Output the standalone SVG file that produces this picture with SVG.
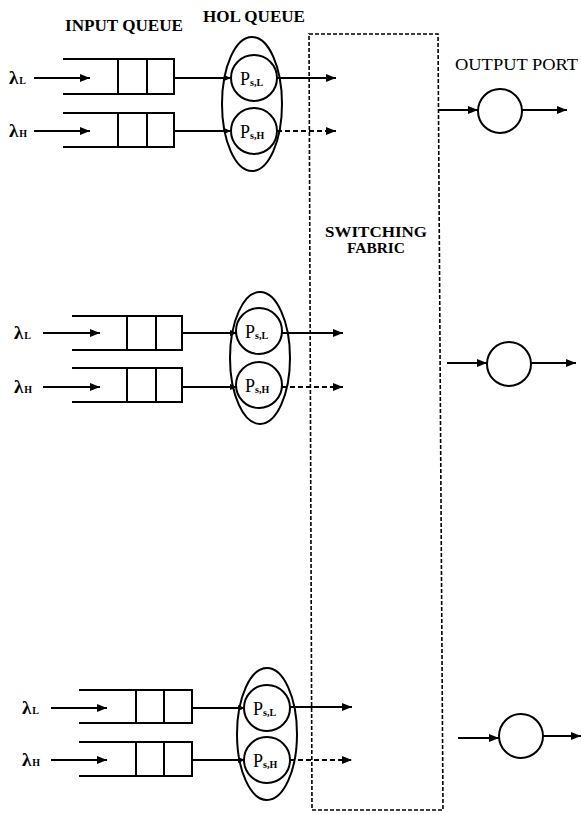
<svg xmlns="http://www.w3.org/2000/svg" width="581" height="814" viewBox="0 0 581 814">
<style>
.ln{stroke:#000;stroke-width:2;fill:none}
.q{stroke:#000;stroke-width:2;fill:none}
.c{stroke:#000;stroke-width:2;fill:#fff}
.e{stroke:#000;stroke-width:2;fill:none}
.d{stroke:#000;stroke-width:1.8;fill:none;stroke-dasharray:5 3}
.fab{stroke:#000;stroke-width:1.6;fill:none;stroke-dasharray:4 2}
.t{font-family:"Liberation Serif",serif;fill:#000}
.lab{font-size:16px;font-weight:bold}
.lab2{font-size:16px}
.lam{font-size:19px;font-weight:bold}
.sub{font-size:10px;font-weight:bold}
.p{font-size:18px}
</style>
<defs>
<marker id="ah" markerUnits="userSpaceOnUse" markerWidth="11" markerHeight="9" refX="10" refY="4" orient="auto"><path d="M0,0 L10,4 L0,8 z" fill="#000"/></marker>
<marker id="as" markerUnits="userSpaceOnUse" markerWidth="8" markerHeight="8" refX="7" refY="3" orient="auto"><path d="M0,0 L7,3 L0,6 z" fill="#000"/></marker>
</defs>

<g id="labels">
<text class="t lab" x="65" y="31" textLength="118" lengthAdjust="spacingAndGlyphs">INPUT QUEUE</text>
<text class="t lab" x="203" y="22" textLength="102" lengthAdjust="spacingAndGlyphs">HOL QUEUE</text>
<text class="t lab2" x="455" y="70" textLength="123" lengthAdjust="spacingAndGlyphs">OUTPUT PORT</text>
</g>

<g id="switching-fabric">
<polygon class="fab" points="309,34 438,34 443,810 312,810"/>
<text class="t" font-size="15" font-weight="bold" x="325" y="237" textLength="102" lengthAdjust="spacingAndGlyphs">SWITCHING</text>
<text class="t" font-size="15" font-weight="bold" x="347" y="253" textLength="58" lengthAdjust="spacingAndGlyphs">FABRIC</text>
</g>

<!-- Block 1 -->
<g id="input1-L">
<text class="t lam" x="9" y="84">λ<tspan class="sub" dx="1">L</tspan></text>
<path class="q" d="M63,59 H174 V94 H63 M118,59 V94 M147,59 V94"/>
</g>
<g id="input1-H">
<text class="t lam" x="9" y="137">λ<tspan class="sub" dx="1">H</tspan></text>
<path class="q" d="M63,113 H174 V147 H63 M118,113 V147 M147,113 V147"/>
</g>
<g id="hol1">
<ellipse class="e" cx="252" cy="104" rx="30" ry="67"/>
<circle class="c" cx="254" cy="78" r="23"/>
<circle class="c" cx="254" cy="131" r="23"/>
<text class="t p" x="240" y="85">P<tspan class="sub" dy="1">s,L</tspan></text>
<text class="t p" x="240" y="138">P<tspan class="sub" dy="1">s,H</tspan></text>
</g>
<g id="output1">
<circle class="c" cx="500" cy="111" r="22"/>
</g>

<!-- Block 2 -->
<g id="input2-L">
<text class="t lam" x="14" y="339">λ<tspan class="sub" dx="1">L</tspan></text>
<path class="q" d="M72,316 H182 V350 H72 M127,316 V350 M156,316 V350"/>
</g>
<g id="input2-H">
<text class="t lam" x="14" y="393">λ<tspan class="sub" dx="1">H</tspan></text>
<path class="q" d="M72,368 H182 V402 H72 M127,368 V402 M156,368 V402"/>
</g>
<g id="hol2">
<ellipse class="e" cx="260" cy="358" rx="30" ry="66"/>
<circle class="c" cx="259" cy="331" r="23"/>
<circle class="c" cx="259" cy="385" r="23"/>
<text class="t p" x="245" y="338">P<tspan class="sub" dy="1">s,L</tspan></text>
<text class="t p" x="245" y="392">P<tspan class="sub" dy="1">s,H</tspan></text>
</g>
<g id="output2">
<circle class="c" cx="509" cy="364" r="22"/>
</g>

<!-- Block 3 -->
<g id="input3-L">
<text class="t lam" x="22" y="714">λ<tspan class="sub" dx="1">L</tspan></text>
<path class="q" d="M79,690 H192 V723 H79 M136,690 V723 M164,690 V723"/>
</g>
<g id="input3-H">
<text class="t lam" x="22" y="766">λ<tspan class="sub" dx="1">H</tspan></text>
<path class="q" d="M79,742 H192 V776 H79 M136,742 V776 M164,742 V776"/>
</g>
<g id="hol3">
<ellipse class="e" cx="267" cy="734" rx="30" ry="66"/>
<circle class="c" cx="267" cy="708" r="23"/>
<circle class="c" cx="267" cy="760" r="23"/>
<text class="t p" x="253" y="715">P<tspan class="sub" dy="1">s,L</tspan></text>
<text class="t p" x="253" y="767">P<tspan class="sub" dy="1">s,H</tspan></text>
</g>
<g id="output3">
<circle class="c" cx="521" cy="736" r="22"/>
</g>

<g id="connectors">
<!-- block 1 -->
<line class="ln" x1="34" y1="78" x2="90" y2="78" marker-end="url(#ah)"/>
<line class="ln" x1="34" y1="131" x2="90" y2="131" marker-end="url(#ah)"/>
<line class="ln" x1="174" y1="78" x2="231" y2="78" marker-end="url(#as)"/>
<line class="ln" x1="174" y1="131" x2="231" y2="131" marker-end="url(#as)"/>
<line class="ln" x1="277" y1="78" x2="336" y2="78" marker-end="url(#ah)"/>
<line class="d" x1="277" y1="131" x2="336" y2="131" marker-end="url(#ah)"/>
<line class="ln" x1="438" y1="110" x2="478" y2="110" marker-end="url(#ah)"/>
<line class="ln" x1="522" y1="110" x2="567" y2="110" marker-end="url(#ah)"/>
<!-- block 2 -->
<line class="ln" x1="43" y1="333" x2="100" y2="333" marker-end="url(#ah)"/>
<line class="ln" x1="43" y1="387" x2="100" y2="387" marker-end="url(#ah)"/>
<line class="ln" x1="182" y1="333" x2="237" y2="333" marker-end="url(#as)"/>
<line class="ln" x1="182" y1="387" x2="237" y2="387" marker-end="url(#as)"/>
<line class="ln" x1="282" y1="333" x2="343" y2="333" marker-end="url(#ah)"/>
<line class="d" x1="282" y1="387" x2="343" y2="387" marker-end="url(#ah)"/>
<line class="ln" x1="447" y1="363" x2="487" y2="363" marker-end="url(#ah)"/>
<line class="ln" x1="531" y1="363" x2="576" y2="363" marker-end="url(#ah)"/>
<!-- block 3 -->
<line class="ln" x1="51" y1="708" x2="107" y2="708" marker-end="url(#ah)"/>
<line class="ln" x1="51" y1="760" x2="107" y2="760" marker-end="url(#ah)"/>
<line class="ln" x1="192" y1="708" x2="245" y2="708" marker-end="url(#as)"/>
<line class="ln" x1="192" y1="760" x2="245" y2="760" marker-end="url(#as)"/>
<line class="ln" x1="290" y1="707" x2="352" y2="707" marker-end="url(#ah)"/>
<line class="d" x1="290" y1="760" x2="352" y2="760" marker-end="url(#ah)"/>
<line class="ln" x1="458" y1="738" x2="499" y2="738" marker-end="url(#ah)"/>
<line class="ln" x1="543" y1="736" x2="581" y2="736" marker-end="url(#ah)"/>
</g>
</svg>
